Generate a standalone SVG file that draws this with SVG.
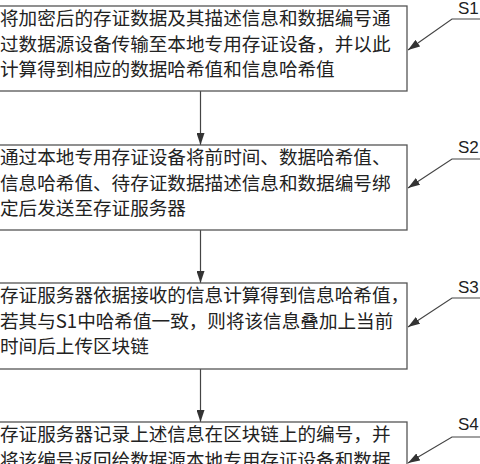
<svg xmlns="http://www.w3.org/2000/svg" width="480" height="464" viewBox="0 0 480 464">
<style>
.box{fill:#fff;stroke:#555;stroke-width:1.3}
.t{font-family:"Noto Sans CJK SC","Noto Sans CJK JP",sans-serif;font-size:18.6px;fill:#222}
.lab{font-family:"Liberation Sans",Arial,sans-serif;font-size:17px;fill:#222}
.ln{fill:none;stroke:#444;stroke-width:1.2}
</style>
<defs>
<marker id="ah" viewBox="0 0 12 8" refX="12" refY="4" markerWidth="12" markerHeight="8" markerUnits="userSpaceOnUse" orient="auto">
<path d="M0,0 L12,4 L0,8 Z" fill="#333"/>
</marker>
</defs>
<rect width="480" height="464" fill="#fff"/>
<g id="connectors">
<line class="ln" x1="200.5" y1="91" x2="200.5" y2="145" marker-end="url(#ah)"/>
<line class="ln" x1="200.5" y1="230" x2="200.5" y2="283" marker-end="url(#ah)"/>
<line class="ln" x1="200.5" y1="369" x2="200.5" y2="422" marker-end="url(#ah)"/>
<polyline class="ln" points="480,19 452,19 408,50" marker-end="url(#ah)"/>
<polyline class="ln" points="480,159 452,159 408,188" marker-end="url(#ah)"/>
<polyline class="ln" points="480,298 452,298 408,327" marker-end="url(#ah)"/>
<polyline class="ln" points="480,437 452,437 408,463" marker-end="url(#ah)"/>
</g>
<g id="S1">
<rect class="box" x="-10" y="6" width="417" height="85"/>
<text class="t" x="0" y="25">将加密后的存证数据及其描述信息和数据编号通</text>
<text class="t" x="0" y="50.5">过数据源设备传输至本地专用存证设备，并以此</text>
<text class="t" x="0" y="76">计算得到相应的数据哈希值和信息哈希值</text>
<text class="lab" x="458" y="13.5">S1</text>
</g>
<g id="S2">
<rect class="box" x="-10" y="145" width="417" height="85"/>
<text class="t" x="0" y="164">通过本地专用存证设备将前时间、数据哈希值、</text>
<text class="t" x="0" y="189.5">信息哈希值、待存证数据描述信息和数据编号绑</text>
<text class="t" x="0" y="215">定后发送至存证服务器</text>
<text class="lab" x="458" y="153">S2</text>
</g>
<g id="S3">
<rect class="box" x="-10" y="283" width="417" height="86"/>
<text class="t" x="0" y="302">存证服务器依据接收的信息计算得到信息哈希值，</text>
<text class="t" x="0" y="327.5">若其与S1中哈希值一致，则将该信息叠加上当前</text>
<text class="t" x="0" y="353">时间后上传区块链</text>
<text class="lab" x="458" y="293">S3</text>
</g>
<g id="S4">
<rect class="box" x="-10" y="422" width="417" height="60"/>
<text class="t" x="0" y="441">存证服务器记录上述信息在区块链上的编号，并</text>
<text class="t" x="0" y="466.5">将该编号返回给数据源本地专用存证设备和数据</text>
<text class="lab" x="458" y="430">S4</text>
</g>
</svg>
